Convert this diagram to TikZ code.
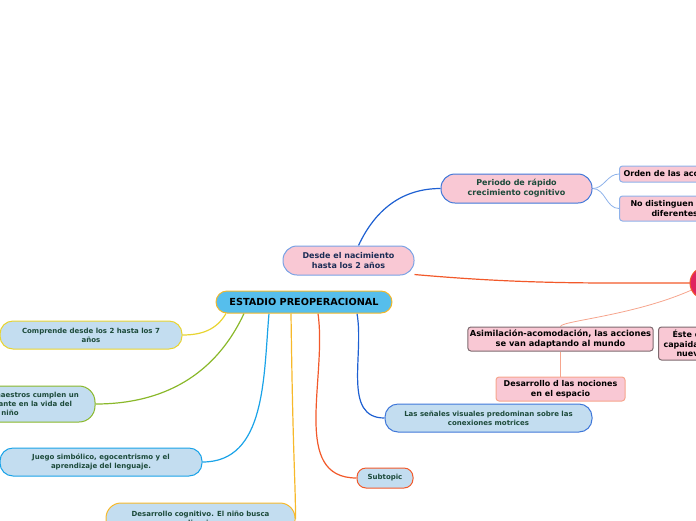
\documentclass[tikz,border=0pt]{standalone}
\usepackage{fontspec}
\setmainfont{DejaVu Sans}
\usetikzlibrary{backgrounds}

\definecolor{rootfill}{HTML}{56BEEC}
\definecolor{rootline}{HTML}{F2B82B}
\definecolor{pinkfill}{HTML}{F9C8D4}
\definecolor{bluefill}{HTML}{C3DDF0}
\definecolor{txtgreen}{HTML}{1C4A3A}
\definecolor{txtnavy}{HTML}{1B2C55}
\definecolor{cyellow}{HTML}{E8D431}
\definecolor{cgreen}{HTML}{8AB82A}
\definecolor{csky}{HTML}{1AA3E8}
\definecolor{cgold}{HTML}{F7B92A}
\definecolor{cred}{HTML}{F2592A}
\definecolor{cblue}{HTML}{1E60D2}
\definecolor{clight}{HTML}{8EB2EA}
\definecolor{csalmon}{HTML}{F6A58D}
\definecolor{cgray}{HTML}{7D6A6F}
\definecolor{ccrim}{HTML}{E0245E}

\tikzset{
  box/.style={draw,line width=1pt,align=center,inner sep=2pt,text=txtgreen,
    font=\bfseries\fontsize{7}{8.8}\selectfont},
  pill/.style={box,fill=bluefill,rounded corners=13pt,minimum height=28pt},
  card/.style={box,fill=pinkfill,rounded corners=3pt,text=black,
    font=\bfseries\fontsize{8}{10}\selectfont},
  link/.style={line width=1.2pt},
  thinlink/.style={line width=.8pt},
}

\begin{document}
\begin{tikzpicture}[x=1pt,y=-1pt,line cap=round,line join=round]
  \useasboundingbox (0,0) rectangle (696,520);
  \clip (0,0) rectangle (696,520);

  % central topic
  \node[box,fill=rootfill,draw=rootline,rounded corners=11pt,text=black,
    minimum width=176pt,minimum height=22pt,
    font=\bfseries\fontsize{9.7}{11}\selectfont] (root) at (304,302) {ESTADIO PREOPERACIONAL};

  % upper branch
  \node[card,draw=clight!80!cblue,rounded corners=14pt,text=txtnavy,
    minimum width=131pt,minimum height=29pt] (desde) at (348.5,260.5)
    {Desde el nacimiento\\hasta los 2 años};
  \node[card,draw=cblue!85,rounded corners=14pt,text=txtgreen,
    minimum width=151pt,minimum height=29pt] (periodo) at (516.5,188.5)
    {Periodo de rápido\\crecimiento cognitivo};
  \node[card,draw=clight,anchor=west,minimum height=16pt,inner sep=4pt] (orden) at (619,174)
    {Orden de las acciones};
  \node[card,draw=clight,anchor=west,minimum height=25pt,
    align=left,inner xsep=11pt] (nodis) at (619,208.5)
    {No distinguen\hspace*{40pt}\\\hspace*{21pt}diferentes};
  \fill[ccrim,draw=cred,line width=1pt] (706,283) circle (16pt);
  \coordinate (circ) at (706,283);

  % right side topics
  \node[card,draw=cgray,minimum width=183pt,minimum height=24pt,
    font=\bfseries\fontsize{8.3}{10.5}\selectfont] (asim) at (560.5,339)
    {Asimilación-acomodación, las acciones\\se van adaptando al mundo};
  \node[card,draw=cgray,anchor=west,minimum height=33pt,
    align=left,inner xsep=5pt,font=\bfseries\fontsize{8}{9.5}\selectfont] (este) at (658,343.5)
    {\hspace*{9pt}Éste es\\capaidad de\hspace*{20pt}\\\hspace*{13pt}nuevas};
  \node[card,draw=csalmon,minimum width=129pt,minimum height=24pt] (noc) at (560.5,389)
    {Desarrollo d las nociones\\en el espacio};

  % subtopics of the central topic
  \node[pill,draw=cyellow,minimum width=182pt] (comp) at (91,335)
    {Comprende desde los 2 hasta los 7\\años};
  \node[pill,draw=cgreen,minimum width=170pt,minimum height=36pt,rounded corners=16pt] (maes) at (10,404)
    {Los padres y maestros cumplen un\\papel importante en la vida del\\niño};
  \node[pill,draw=csky,minimum width=202pt] (juego) at (101,462)
    {Juego simbólico, egocentrismo y el\\aprendizaje del lenguaje.};
  \node[pill,draw=cgold,minimum width=189pt,minimum height=32pt,rounded corners=15pt] (cog) at (200.5,519)
    {Desarrollo cognitivo. El niño busca\\explicaciones};
  \node[pill,draw=cblue!85,minimum width=207pt] (sen) at (488.5,418)
    {Las señales visuales predominan sobre las\\conexiones motrices};
  \node[pill,draw=cred,minimum width=56pt,minimum height=20pt,rounded corners=9pt] (sub) at (385,478)
    {Subtopic};

  \begin{scope}[on background layer]
    \draw[link,cblue] ([xshift=10pt]desde.north) to[out=65,in=180] (periodo.west);
    \draw[link,cred] (desde.-12) to[out=-5,in=180] (circ);
    \draw[thinlink,clight] (periodo.east) to[out=0,in=180] (orden.west);
    \draw[thinlink,clight] (periodo.east) to[out=0,in=180] (nodis.west);
    \draw[thinlink,csalmon] (circ) .. controls +(-60,32) and +(0,-6) .. (asim.north);
    \draw[thinlink,csalmon] (asim.south) -- (noc.north);
    \draw[link,cyellow] ([xshift=-78pt]root.south) to[out=-120,in=0] (comp.east);
    \draw[link,cgreen] ([xshift=-60pt]root.south) to[out=-115,in=0] (maes.east);
    \draw[link,csky] ([xshift=-35pt]root.south) to[out=-95,in=0] (juego.east);
    \draw[link,cgold] ([xshift=-13pt]root.south) .. controls +(2,150) and +(0,-40) .. (cog.east);
    \draw[link,cred] ([xshift=14pt]root.south) to[out=-82,in=180] (sub.west);
    \draw[link,cblue] ([xshift=53pt]root.south) to[out=-80,in=180] (sen.west);
  \end{scope}
\end{tikzpicture}
\end{document}
